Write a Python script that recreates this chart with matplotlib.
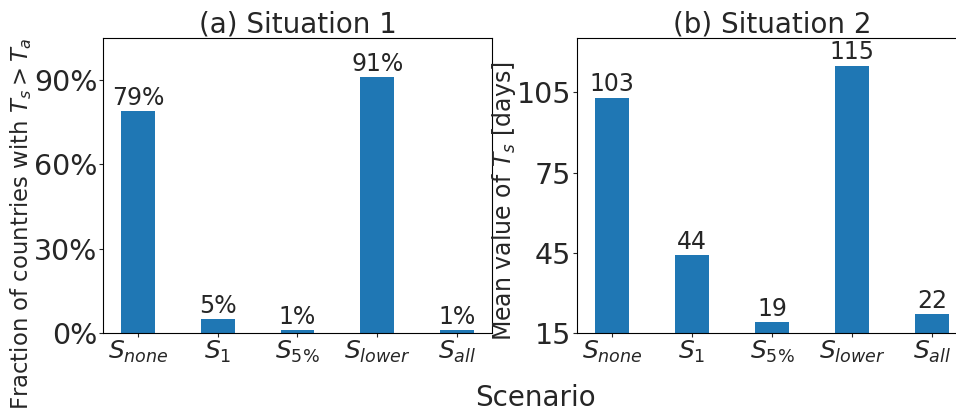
import numpy as np
import matplotlib.pyplot as plt
from matplotlib.ticker import PercentFormatter

plt.rcParams['font.family'] = ['DejaVu Sans']
plt.rcParams['mathtext.fontset'] = 'dejavusans'
plt.rcParams['text.color'] = '#262626'
plt.rcParams['axes.labelcolor'] = '#262626'
plt.rcParams['xtick.color'] = '#262626'
plt.rcParams['ytick.color'] = '#262626'
plt.rcParams['xtick.major.size'] = 3
plt.rcParams['ytick.major.size'] = 3

scenarios = ['$S_{none}$', '$S_1$', '$S_{5\\%}$', '$S_{lower}$', '$S_{all}$']
frac_exceed = [79, 5, 1, 91, 1]        # % of countries with Ts > Ta
mean_ts = [103, 44, 19, 115, 22]       # mean Ts in days

x = np.arange(len(scenarios))
bar_color = '#1f77b4'
width = 0.42

fig = plt.figure(figsize=(9.56, 4.13), dpi=100)
ax1 = fig.add_axes([103 / 956, 1 - 333 / 413, 389 / 956, 295 / 413])
ax2 = fig.add_axes([577 / 956, 1 - 333 / 413, 390 / 956, 295 / 413])

# (a) share of countries
ax1.bar(x, frac_exceed, width=width, color=bar_color)
for xi, v in zip(x, frac_exceed):
    ax1.text(xi, v + 0.5, f'{v}%', ha='center', va='bottom', fontsize=17)
ax1.set_ylim(0, 105)
ax1.set_yticks([0, 30, 60, 90])
ax1.yaxis.set_major_formatter(PercentFormatter(decimals=0))
ax1.set_ylabel('Fraction of countries with $T_s > T_a$', fontsize=16.4)
ax1.yaxis.set_label_coords(-0.177, 0.37)
ax1.set_title('(a) Situation 1', fontsize=20, pad=4)

# (b) mean value of Ts
ax2.bar(x, mean_ts, width=width, color=bar_color)
for xi, v in zip(x, mean_ts):
    ax2.text(xi, v + 0.5, f'{v}', ha='center', va='bottom', fontsize=17)
ax2.set_ylim(15, 125.3)
ax2.set_yticks([15, 45, 75, 105])
ax2.set_ylabel('Mean value of $T_s$ [days]', fontsize=17)
ax2.yaxis.set_label_coords(-0.151, 0.447)
ax2.set_title('(b) Situation 2', fontsize=20, pad=4)

for ax in (ax1, ax2):
    ax.set_xticks(x)
    ax.set_xticklabels(scenarios)
    ax.set_xlim(-0.44, 4.44)
    ax.tick_params(axis='y', labelsize=20.5, pad=1)
    ax.tick_params(axis='x', labelsize=18, pad=1)

fig.text(535 / 956, 1 - 398 / 413, 'Scenario', ha='center', va='center', fontsize=20)

fig.savefig('out.png', dpi=100)
